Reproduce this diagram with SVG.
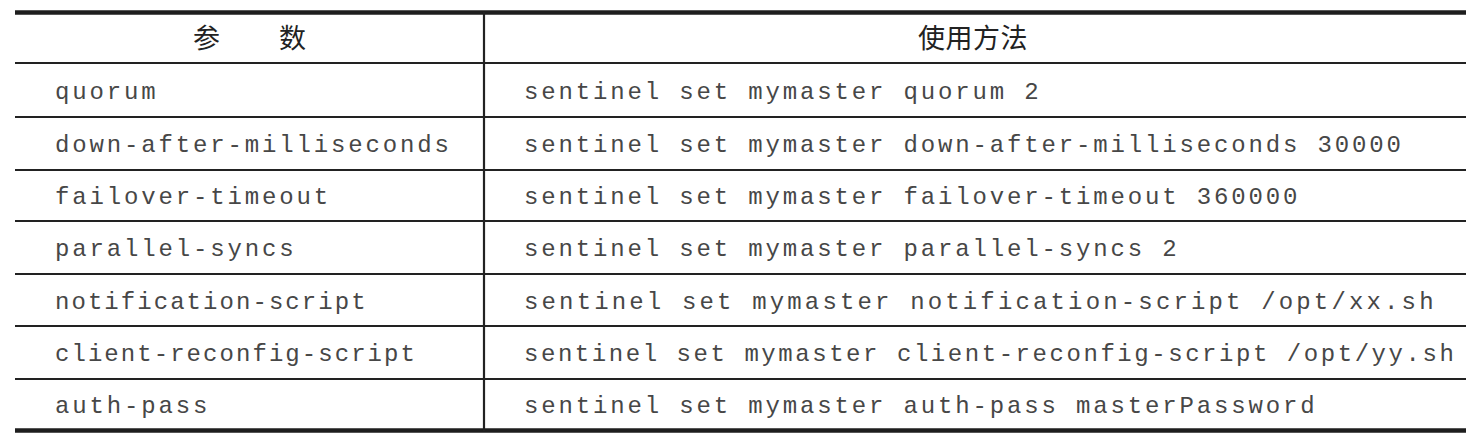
<svg xmlns="http://www.w3.org/2000/svg" width="1477" height="443" viewBox="0 0 1477 443">
<style>
.bg{fill:#ffffff}
.thick{stroke:#1e1e1e;stroke-width:4.5}
.thin{stroke:#222222;stroke-width:2.2}
.hd{font-family:"Noto Sans CJK SC","Noto Sans",sans-serif;font-size:27px;fill:#222222;text-anchor:middle}
.mono{font-family:"Liberation Mono","DejaVu Sans Mono",monospace;font-size:24px;fill:#474747;letter-spacing:2.85px}
.tight{letter-spacing:2.05px}
.r5{letter-spacing:3.15px}
.r6{letter-spacing:2.55px}
</style>
<rect class="bg" x="0" y="0" width="1477" height="443"/>
<g id="grid">
<line class="thick" x1="15" y1="12.5" x2="1466" y2="12.5"/>
<line class="thin" x1="15" y1="63" x2="1466" y2="63"/>
<line class="thin" x1="15" y1="117" x2="1466" y2="117"/>
<line class="thin" x1="15" y1="170" x2="1466" y2="170"/>
<line class="thin" x1="15" y1="221" x2="1466" y2="221"/>
<line class="thin" x1="15" y1="274" x2="1466" y2="274"/>
<line class="thin" x1="15" y1="326" x2="1466" y2="326"/>
<line class="thin" x1="15" y1="379" x2="1466" y2="379"/>
<line class="thick" x1="15" y1="430.5" x2="1466" y2="430.5"/>
<line class="thin" x1="484" y1="12" x2="484" y2="431"/>
</g>
<g id="header">
<text class="hd" x="206.5" y="48">参</text>
<text class="hd" x="292.5" y="48">数</text>
<text class="hd" x="973" y="48" letter-spacing="0.5">使用方法</text>
</g>
<g id="row-quorum">
<text class="mono" x="55" y="98.5">quorum</text>
<text class="mono" x="524" y="98.5">sentinel set mymaster quorum 2</text>
</g>
<g id="row-down-after">
<text class="mono" x="55" y="152">down-after-milliseconds</text>
<text class="mono" x="524" y="152">sentinel set mymaster down-after-milliseconds 30000</text>
</g>
<g id="row-failover">
<text class="mono" x="55" y="204">failover-timeout</text>
<text class="mono" x="524" y="204">sentinel set mymaster failover-timeout 360000</text>
</g>
<g id="row-parallel">
<text class="mono" x="55" y="256">parallel-syncs</text>
<text class="mono" x="524" y="256">sentinel set mymaster parallel-syncs 2</text>
</g>
<g id="row-notification">
<text class="mono tight" x="55" y="308.5">notification-script</text>
<text class="mono r5" x="524" y="308.5">sentinel set mymaster notification-script /opt/xx.sh</text>
</g>
<g id="row-client">
<text class="mono tight" x="55" y="361">client-reconfig-script</text>
<text class="mono r6" x="524" y="361">sentinel set mymaster client-reconfig-script /opt/yy.sh</text>
</g>
<g id="row-auth">
<text class="mono" x="55" y="413">auth-pass</text>
<text class="mono" x="524" y="413">sentinel set mymaster auth-pass masterPassword</text>
</g>
</svg>
